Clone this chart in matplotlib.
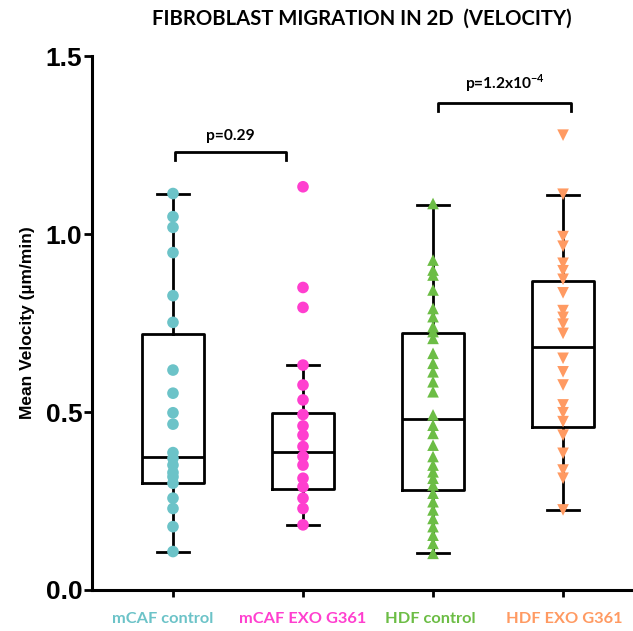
import numpy as np
import matplotlib.pyplot as plt

# groups and colours
groups = ["mCAF control", "mCAF EXO G361", "HDF control", "HDF EXO G361"]
colors = ["#6cc3c8", "#ff3fcf", "#6cbd45", "#ff9a62"]
markers = ["o", "o", "^", "v"]

# individual cell velocities (um/min)
mcaf_ctrl = [1.114, 1.049, 1.019, 0.948, 0.827, 0.752, 0.618, 0.553, 0.498, 0.466,
             0.386, 0.370, 0.351, 0.330, 0.318, 0.300, 0.258, 0.229, 0.178, 0.108]
mcaf_exo = [1.133, 0.850, 0.794, 0.632, 0.576, 0.534, 0.493, 0.461, 0.435, 0.403,
            0.375, 0.351, 0.314, 0.290, 0.258, 0.229, 0.183]
hdf_ctrl = [1.086, 0.927, 0.899, 0.885, 0.843, 0.791, 0.768, 0.740, 0.726, 0.707,
            0.665, 0.637, 0.613, 0.585, 0.557, 0.492, 0.463, 0.440, 0.407, 0.375,
            0.351, 0.332, 0.314, 0.295, 0.272, 0.248, 0.225, 0.201, 0.178, 0.154,
            0.131, 0.103]
hdf_exo = [1.278, 1.112, 0.993, 0.966, 0.918, 0.897, 0.873, 0.835, 0.785, 0.766,
           0.747, 0.721, 0.651, 0.613, 0.576, 0.520, 0.498, 0.473, 0.435, 0.384,
           0.337, 0.314, 0.225]
values = [mcaf_ctrl, mcaf_exo, hdf_ctrl, hdf_exo]

# box statistics as drawn in the figure
q1 = [0.301, 0.284, 0.281, 0.459]
med = [0.375, 0.387, 0.480, 0.684]
q3 = [0.719, 0.496, 0.723, 0.869]
whislo = [0.108, 0.183, 0.105, 0.224]
whishi = [1.114, 0.632, 1.083, 1.110]

# significance brackets
pvals = ["p=0.29", r"p=1.2x10$^{\mathbf{-4}}$"]
brackets = [(0.015, 0.87, 1.23), (2.04, 3.06, 1.368)]

plt.rcParams['font.family'] = ['Lato', 'DejaVu Sans']
plt.rcParams['mathtext.fontset'] = 'custom'
plt.rcParams['mathtext.rm'] = 'Lato'
plt.rcParams['mathtext.bf'] = 'Lato:bold'

fig = plt.figure(figsize=(6.33, 6.31), dpi=100)
ax = fig.add_axes([0.1453, 0.065, 0.8547, 0.846])

pos = np.arange(len(groups))
stats = []
for i in range(len(groups)):
    stats.append(dict(q1=q1[i], med=med[i], q3=q3[i], whislo=whislo[i],
                      whishi=whishi[i], fliers=[]))
ax.bxp(stats, positions=pos, widths=0.477, capwidths=0.25, showfliers=False,
       boxprops=dict(color='black', linewidth=2.0),
       medianprops=dict(color='black', linewidth=2.0),
       whiskerprops=dict(color='black', linewidth=2.0),
       capprops=dict(color='black', linewidth=2.0))

for i in range(len(groups)):
    ax.scatter(np.full(len(values[i]), pos[i]), values[i], s=70, marker=markers[i],
               color=colors[i], edgecolors='none', zorder=5, clip_on=False)

for (x1, x2, y), txt in zip(brackets, pvals):
    ax.plot([x1, x1, x2, x2], [y - 0.022, y, y, y - 0.022], color='black',
            linewidth=2.0, clip_on=False)
    ax.text((x1 + x2) / 2, y + 0.025, txt, ha='center', va='bottom',
            fontsize=11.2, fontweight='bold')

ax.set_xlim(-0.623, 3.538)
ax.set_ylim(0, 1.5)
ax.set_yticks([0, 0.5, 1.0, 1.5])
ax.set_yticklabels(["0.0", "0.5", "1.0", "1.5"], fontfamily='Liberation Sans',
                   fontweight='bold', fontsize=19)
ax.set_xticks(pos)
ax.set_xticklabels([])
# category labels drawn as text so the first one can sit left of its tick
label_shift = [-0.08, 0, -0.02, 0.01]
for i in range(len(groups)):
    ax.text(pos[i] + label_shift[i], -0.055, groups[i], transform=ax.get_xaxis_transform(),
            ha='center', va='center', fontsize=11.8, fontweight='bold', color=colors[i])
ax.tick_params(axis='y', length=6, width=2, pad=1)
ax.tick_params(axis='x', length=5, width=2)
for s in ['top', 'right']:
    ax.spines[s].set_visible(False)
for s in ['left', 'bottom']:
    ax.spines[s].set_linewidth(2.2)

ax.set_ylabel("Mean Velocity (µm/min)", fontfamily='Liberation Sans',
              fontweight='bold', fontsize=12.5, labelpad=8)
fig.text(0.572, 0.971, "FIBROBLAST MIGRATION IN 2D  (VELOCITY)", ha='center',
         va='center', fontsize=14.6, fontweight='bold')

fig.savefig("out.png", dpi=100)
